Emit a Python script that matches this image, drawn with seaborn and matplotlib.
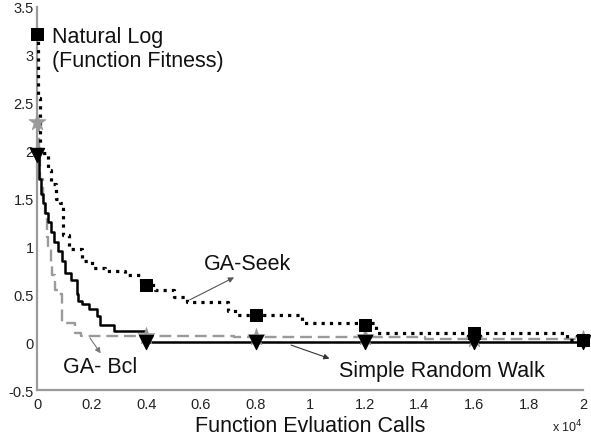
import matplotlib
matplotlib.use("Agg")
import matplotlib.pyplot as plt
import seaborn as sns
import pandas as pd
from matplotlib.ticker import FuncFormatter

# ---- data (function evaluation calls, natural log of fitness) ----
seek_x = [0, 30, 100, 400, 500, 700, 850, 950, 1150, 1650, 2000, 2500, 3200, 3800,
          4000, 4300, 5000, 5500, 7000, 7300, 9700, 12400, 19400, 20000]
seek_y = [3.22, 2.55, 1.97, 1.8, 1.65, 1.5, 1.45, 1.12, 0.97, 0.85, 0.78, 0.74, 0.7, 0.62,
          0.6, 0.55, 0.47, 0.42, 0.33, 0.28, 0.2, 0.1, 0.02, 0.02]

srw_x = [0, 50, 150, 220, 300, 400, 500, 600, 750, 900, 1000, 1250, 1450, 1500, 1650,
         1900, 2200, 2300, 2800, 4000, 20000]
srw_y = [1.95, 1.7, 1.55, 1.45, 1.35, 1.25, 1.15, 1.05, 0.95, 0.85, 0.72, 0.65, 0.5, 0.43,
         0.4, 0.35, 0.27, 0.18, 0.12, 0.0, 0.0]

bcl_x = [0, 50, 100, 200, 280, 350, 400, 500, 550, 650, 800, 900, 1400, 1600, 7200,
         14200, 20000]
bcl_y = [2.3, 1.9, 1.7, 1.5, 1.3, 1.1, 1.0, 0.8, 0.7, 0.55, 0.5, 0.2, 0.1, 0.07, 0.05,
         0.03, 0.03]

mark_x = [0, 4000, 8000, 12000, 16000, 20000]
seek_mark_y = [3.22, 0.6, 0.28, 0.18, 0.1, 0.02]
srw_mark_y = [1.95, 0.0, 0.0, 0.0, 0.0, 0.0]
bcl_mark_y = [2.3, 0.07, 0.05, 0.05, 0.03, 0.03]

x_ticks = [0, 2000, 4000, 6000, 8000, 10000, 12000, 14000, 16000, 18000, 20000]
y_ticks = [-0.5, 0, 0.5, 1, 1.5, 2, 2.5, 3, 3.5]

sns.set_theme(style="white")
plt.rcParams["font.family"] = ["Liberation Sans", "DejaVu Sans"]

fig = plt.figure(figsize=(5.91, 4.39), dpi=100)
ax = fig.add_axes([0.063, 0.109, 0.924, 0.873])

gray = "#9a9a9a"
dseek = pd.DataFrame({"x": seek_x, "y": seek_y})
dsrw = pd.DataFrame({"x": srw_x, "y": srw_y})
dbcl = pd.DataFrame({"x": bcl_x, "y": bcl_y})

sns.lineplot(data=dbcl, x="x", y="y", ax=ax, drawstyle="steps-post", color=gray,
             linestyle=(0, (5, 2.5)), linewidth=1.7, estimator=None, sort=False, zorder=2)
sns.lineplot(data=dseek, x="x", y="y", ax=ax, drawstyle="steps-post", color="black",
             linestyle=(0, (1, 1.6)), linewidth=2.3, estimator=None, sort=False, zorder=3)
sns.lineplot(data=dsrw, x="x", y="y", ax=ax, drawstyle="steps-post", color="black",
             linestyle="-", linewidth=1.8, estimator=None, sort=False, zorder=4)

sns.scatterplot(x=mark_x, y=bcl_mark_y, ax=ax, marker="*", s=170, color=gray,
                edgecolor=gray, linewidth=0.5, zorder=5, clip_on=False)
sns.scatterplot(x=mark_x, y=seek_mark_y, ax=ax, marker="s", s=85, color="black",
                edgecolor="black", zorder=6, clip_on=False)
sns.scatterplot(x=mark_x, y=srw_mark_y, ax=ax, marker="v", s=105, color="black",
                edgecolor="black", zorder=7, clip_on=False)

ax.set_xlim(0, 20000)
ax.set_ylim(-0.5, 3.5)
ax.set_xticks(x_ticks)
ax.set_yticks(y_ticks)
ax.xaxis.set_major_formatter(FuncFormatter(lambda v, p: f"{v/1e4:g}"))
ax.yaxis.set_major_formatter(FuncFormatter(lambda v, p: f"{v:g}"))
ax.tick_params(direction="in", length=4, width=1, color=gray, labelsize=10.5,
               labelcolor="#222222")
ax.tick_params(axis="x", pad=5)
ax.tick_params(axis="y", pad=2.5)
for s in ["top", "right"]:
    ax.spines[s].set_visible(False)
for s in ["left", "bottom"]:
    ax.spines[s].set_color(gray)
    ax.spines[s].set_linewidth(1.6)

ax.set_xlabel("Function Evluation Calls", fontsize=15.5, color="#111111", labelpad=3)
ax.set_ylabel("")
ax.text(0.942, -0.094, "x 10$^4$", transform=ax.transAxes, fontsize=9, color="#222222",
        ha="left", va="center")

ax.text(550, 3.07, "Natural Log\n(Function Fitness)", fontsize=15.5, color="#111111",
        ha="left", va="center", linespacing=1.2)

ax.text(6100, 0.82, "GA-Seek", fontsize=15.5, color="#111111", ha="left", va="center")
ax.annotate("", xy=(7300, 0.69), xytext=(5500, 0.43),
            arrowprops=dict(arrowstyle="-|>", color="#555555", lw=0.8, mutation_scale=8))

ax.text(950, -0.25, "GA- Bcl", fontsize=15.5, color="#111111", ha="left", va="center")
ax.annotate("", xy=(2380, -0.14), xytext=(1870, 0.07),
            arrowprops=dict(arrowstyle="-|>", color="#777777", lw=0.8, mutation_scale=8))

ax.text(11050, -0.29, "Simple Random Walk", fontsize=15.5, color="#111111", ha="left",
        va="center")
ax.annotate("", xy=(10800, -0.18), xytext=(9200, -0.02),
            arrowprops=dict(arrowstyle="-|>", color="#333333", lw=0.8, mutation_scale=8))

fig.savefig("out.png", dpi=100)
